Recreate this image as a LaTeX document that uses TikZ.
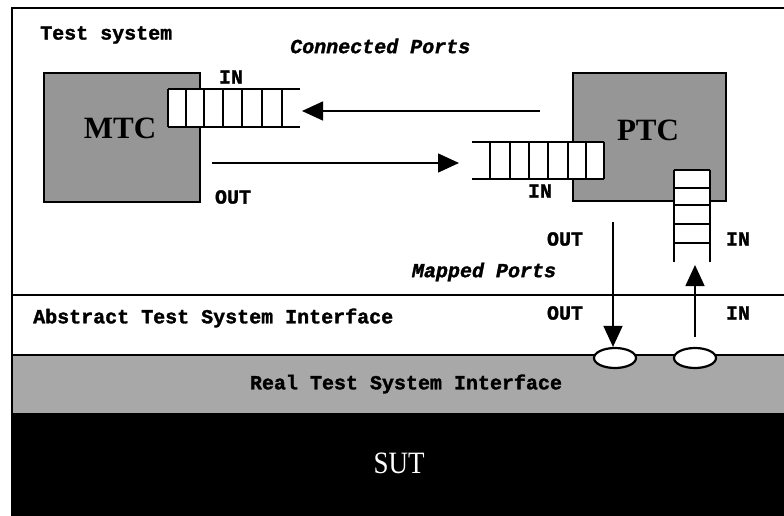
\documentclass[tikz,border=0pt]{standalone}
\usepackage{fontspec}
\setmainfont{Liberation Serif}
\setmonofont{Liberation Mono}[BoldFeatures={FakeBold=1.6},BoldItalicFeatures={FakeBold=1.6}]
\usetikzlibrary{arrows.meta,shapes.geometric}
\definecolor{compgray}{HTML}{969696}
\definecolor{bandgray}{HTML}{A8A8A8}
\tikzset{
  frameline/.style={line width=1.6pt},
  compbox/.style={draw, line width=1.8pt, fill=compgray},
  lbl/.style={font=\ttfamily\bfseries\fontsize{20}{22}\selectfont, inner sep=0pt},
  ilbl/.style={font=\ttfamily\bfseries\itshape\fontsize{20}{22}\selectfont, inner sep=0pt},
  comp/.style={font=\bfseries\fontsize{31}{33}\selectfont, inner sep=0pt},
  qline/.style={line width=1.5pt},
  flow/.style={line width=1.5pt, -{Triangle[length=21pt,width=19pt]}},
  portmap/.style={draw, line width=2.2pt, fill=white, ellipse, minimum width=42pt, minimum height=20pt, inner sep=0pt}
}
\begin{document}
\begin{tikzpicture}[x=1pt,y=-1pt]
\useasboundingbox (0,0) rectangle (784,516);
% layers: real interface band and SUT
\fill[bandgray] (12,355) rectangle (784,413);
\fill[black] (12,413) rectangle (784,516);
\draw[frameline] (12,516) -- (12,8) -- (784,8);
\draw[frameline] (12,295) -- (784,295);
\draw[frameline] (12,355) -- (784,355);

% component boxes
\node[compbox, minimum width=156pt, minimum height=129pt, anchor=north west] (mtcbox) at (43,72) {};
\node[compbox, minimum width=153pt, minimum height=128pt, anchor=north west] (ptcbox) at (572,72) {};
\node[comp] (mtc) at (120,128) {MTC};
\node[comp] (ptc) at (648,130) {PTC};

% MTC input queue
\fill[white] (168,89) rectangle (282,127);
\draw[qline] (168,89) -- (300,89) (168,127) -- (300,127);
\foreach \x in {168,186,204,223,242,262,282} \draw[qline] (\x,89) -- (\x,127);

% PTC input queue
\fill[white] (490,142) rectangle (604,179);
\draw[qline] (472,142) -- (604,142) (472,179) -- (604,179);
\foreach \x in {490,510,529,548,568,586,604} \draw[qline] (\x,142) -- (\x,179);

% PTC mapped input queue (vertical)
\fill[white] (674,170) rectangle (710,243);
\draw[qline] (674,170) -- (674,262) (710,170) -- (710,262);
\foreach \y in {170,188,205,224,243} \draw[qline] (674,\y) -- (710,\y);

% ports on the real interface
\node[portmap] (pout) at (615,358) {};
\node[portmap] (pin) at (695,358) {};

% connector end points
\coordinate (ptcsend) at (540,111);
\coordinate (mtcqin) at (302,111);
\coordinate (mtcsend) at (212,163);
\coordinate (ptcqin) at (459,163);
\coordinate (ptcout) at (613,222);
\coordinate (ptcqbot) at (695,265);
\coordinate (pinbase) at (695,337);

\draw[flow] (ptcsend) -- (mtcqin);
\draw[flow] (mtcsend) -- (ptcqin);
\draw[flow] (ptcout) -- (pout.north -| ptcout);
\draw[flow] (pinbase) -- (ptcqbot);

% labels
\node[lbl, anchor=west] (tsys) at (40,35) {Test system};
\node[ilbl, anchor=west] (conn) at (290,46) {Connected Ports};
\node[lbl] (mtcin) at (231,77) {IN};
\node[lbl] (mtcout) at (233,197) {OUT};
\node[lbl] (ptcin) at (540,191) {IN};
\node[lbl] (mout1) at (565,239) {OUT};
\node[lbl] (min1) at (738,239) {IN};
\node[ilbl] (mapped) at (484,272) {Mapped Ports};
\node[lbl] (mout2) at (565,313) {OUT};
\node[lbl] (min2) at (738,313) {IN};
\node[lbl, anchor=west] (ati) at (33,318) {Abstract Test System Interface};
\node[lbl] (rti) at (406,384) {Real Test System Interface};
\node[text=white, font=\fontsize{27}{30}\selectfont, inner sep=0pt] (sut) at (399,463) {\scalebox{1}[1.15]{SUT}};
\end{tikzpicture}
\end{document}
